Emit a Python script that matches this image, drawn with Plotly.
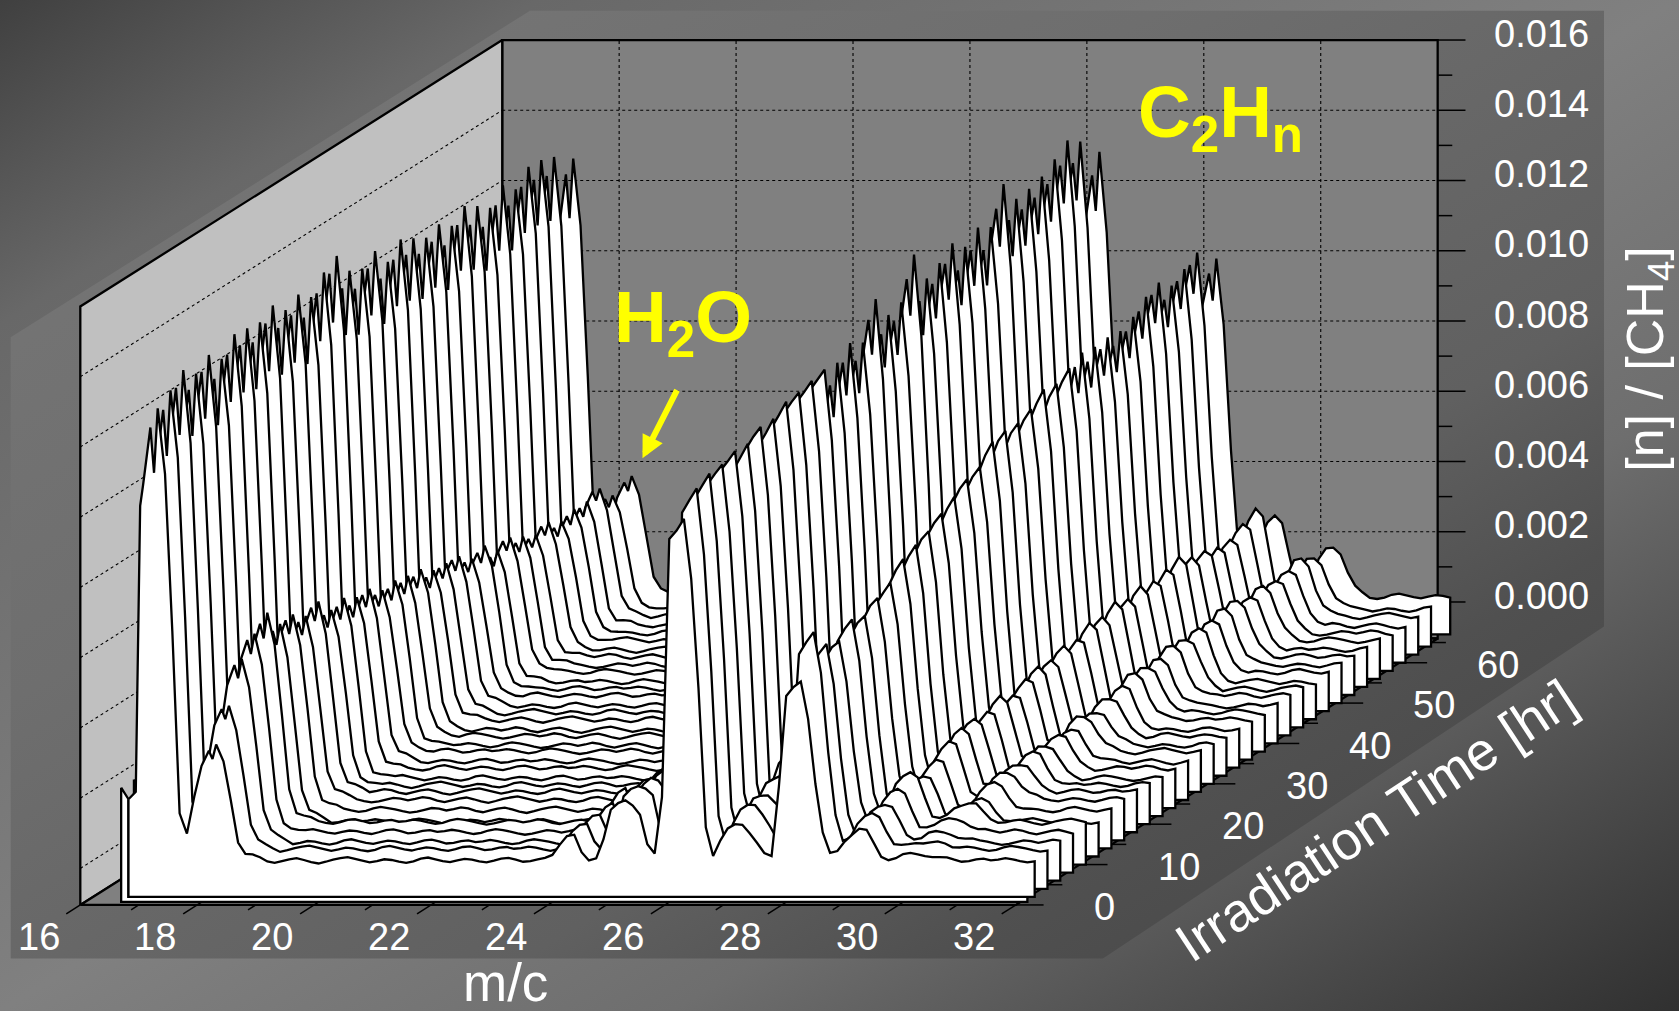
import base64
import plotly.graph_objects as go

# ---------- data ----------
TIMES = [2,4,6,8,10,12,14,16,18,20,22,24,26,28,30,32,34,36,38,40,42,44,46,48,50,52,54,56,58,60,62,64,67]
MC_START = 16.48
MC_STEP = 0.125
N_SAMPLES = 126

LEFT_EDGE = [0.00207, 0.00174, 0.00195]

# peak profiles: (sample position on the m/c grid, fraction of the peak height)
SHAPE_A = [(2.6,.78),(3,.83),(4,.96),(4.5,.86),(5,1.0),(6,.85),(7,.5),(8,.1),(9,.03)]
SHAPE_B = [(9,.11),(10,.56),(11,.84),(12,.96),(12.5,.89),(13,1.0),(14,.84),(15,.51),(16,.16),(17,.05),(18,.03),(19,.015)]
SHAPE_C1 = [(58,.03),(59,.22),(60,.6),(61,.9),(62,1.0),(63,.36),(64,.08)]
SHAPE_C2 = [(65,.05),(66,.33),(67,.8),(68,.93),(69,1.0),(70,.94),(71,.81),(72,.3)]
# the young spectra have rounded tops, the later ones a spike on a shoulder
SHAPE_D_EARLY = [(73,.02),(74,.18),(75,.94),(76,.97),(77,1.0),(78,.82),(79,.5),(80,.1),(81,.02)]
SHAPE_D_LATE = [(73,.02),(74,.18),(75,.84),(76,.95),(76.5,.87),(77,1.0),(78,.82),(79,.5),(80,.1),(81,.02)]
SHAPE_E = [(82,.59),(83,.88),(84,.97),(85,1.0),(86,.82),(87,.59),(88,.25),(89,.1)]
SHAPE_F_EARLY = [(90,.40),(91,.90),(92,.96),(93,1.0),(94,.80),(95,.43),(96,.15),(97,.04)]
SHAPE_F_LATE = [(90,.40),(91,.85),(92,.96),(92.5,.88),(93,1.0),(94,.80),(95,.43),(96,.15),(97,.04)]
SHAPE_G = [(98,.36),(99,.71),(100,.89),(101,1.0),(102,.93),(103,.54),(104,.14),(105,.04)]
SHAPE_H = [(105,.1),(106,.3),(107,.7),(108,.95),(109,1.0),(110,.9),(111,.5),(112,.2),(113,.08)]
LATE_D_FROM = 12
LATE_F_FROM = 22

H_A = [.0129,.0131,.0134,.0131,.0133,.0132,.0135,.0134,.0133,.0136,.0133,.0135,.0132,.0136,.0139,.0133,.0131,
       .0134,.0129,.0132,.0130,.0128,.0131,.0127,.0130,.0128,.0125,.0129,.0127,.0131,.0130,.0128,.0125]
H_B = [.0033,.0041,.0053,.0057,.0059,.0056,.0056,.0052,.0054,.0050,.0051,.0048,.0049,.0046,.0047,.0045,.0046,
       .0043,.0042,.0043,.0039,.0041,.0037,.0038,.0036,.0034,.0036,.0034,.0035,.0035,.0036,.0033,.0034]
H_C1 = [.0007,.0007,.0008,.0008,.0009,.0009,.0009,.0009,.0008,.0009,.0008,.0008,.0008,.0007,.0008,.0007,.0007,
        .0007,.0006,.0007,.0006,.0006,.0006,.0005,.0006,.0005,.0005,.0005,.0005,.0005,.0005,.0005,.0005]
H_C2 = [.0017,.0018,.0018,.0017,.0018,.0018,.0017,.0017,.0016,.0016,.0016,.0015,.0015,.0015,.0014,.0014,.0014,
        .0013,.0013,.0013,.0012,.0012,.0012,.0011,.0011,.0011,.0011,.0010,.0010,.0010,.0010,.0010,.0010]
H_D = [.0097,.0102,.0104,.0105,.0106,.0107,.0109,.0108,.0111,.0112,.0114,.0114,.0113,.0116,.0115,.0124,.0118,
       .0119,.0130,.0121,.0123,.0127,.0124,.0126,.0125,.0135,.0128,.0129,.0130,.0133,.0135,.0133,.0126]
H_E = [.0010,.0012,.0014,.0016,.0019,.0021,.0023,.0024,.0026,.0027,.0028,.0029,.0030,.0030,.0031,.0031,.0031,
       .0032,.0032,.0032,.0033,.0033,.0033,.0033,.0034,.0034,.0034,.0034,.0034,.0034,.0034,.0034,.0034]
H_F = [.0051,.0062,.0056,.0054,.0057,.0058,.0060,.0062,.0066,.0068,.0070,.0073,.0075,.0078,.0080,.0083,.0085,
       .0084,.0087,.0090,.0088,.0091,.0093,.0092,.0094,.0093,.0095,.0097,.0100,.0097,.0099,.0102,.0096]
H_G = [.00085,.0010,.0011,.0012,.0014,.0013,.0014,.0016,.0018,.0019,.0019,.0020,.0019,.0021,.0022,.0022,.0024,
       .0023,.0025,.0025,.0026,.0025,.0027,.0026,.0027,.0028,.0026,.0026,.0024,.0025,.0027,.0028,.0023]
H_H = [.0002,.0002,.0003,.0004,.0005,.0006,.0007,.0008,.0008,.0009,.0009,.0009,.0009,.0010,.0010,.0011,.0012,
       .0013,.0013,.0013,.0014,.0014,.0015,.0014,.0016,.0016,.0015,.0015,.0015,.0016,.0016,.0015,.0014]

# baseline level of each spectrum and its ripple
BASE = [0.0,.00010,.00006,.00012,.00018,-.00004,.00006,.00012,.00012,.00008,.00004,.00010,.00006,.00012,.00006,.00010,.00004,
        .00010,.00008,.00004,.00010,.00006,.00002,.00008,.00004,.00006,.00002,.00006,.00004,.00002,.00006,.00002,.00004]
RIPPLE = [.00002,.00006,.00003,-.00002,-.00006,-.00003,.00004,.00008,.00005,.00001,-.00004,-.00008,-.00005,.00000,.00005,
          .00003,-.00002,.00002,.00007,.00004,-.00003,-.00007,-.00002,.00003,.00006,.00001,-.00005,-.00009,-.00004,.00002,
          .00006,.00009,.00004,-.00001,-.00006,-.00002,.00003,.00001,-.00004,-.00007,-.00003,.00005,.00008,.00003,-.00002,
          -.00005,.00000,.00004,.00002,-.00003,-.00006,-.00001,.00005,.00007,.00002,-.00004,-.00002,.00003,.00005,.00000]

Z_TICKS = [0.000,0.002,0.004,0.006,0.008,0.010,0.012,0.014,0.016]
Z_LABELS = ["0.000","0.002","0.004","0.006","0.008","0.010","0.012","0.014","0.016"]
MC_TICKS = [16,18,20,22,24,26,28,30,32]
MC_MINOR = [17,19,21,23,25,27,29,31]
T_TICKS = [0,10,20,30,40,50,60]
T_MINOR = [5,15,25,35,45,55,65]

# ---------- oblique 3-D to page projection ----------
K = 1679 / 1568
FLOOR = -0.00104
T_END = 66
LW = 2.3


def px(m, t):
    return K * (75 + 54.6 * (m - 16) + 5.97 * t)


def py(t, z):
    return K * (811 - 32800 * z - 3.77 * t)


def path(pts):
    return [px(m, t) for m, t, z in pts], [py(t, z) for m, t, z in pts]


def seg_trace(segs, width=LW, dash=None, color="black"):
    xs, ys = [], []
    for s in segs:
        x, y = path(s)
        xs += x + [None]
        ys += y + [None]
    return go.Scatter(x=xs, y=ys, mode="lines", hoverinfo="skip", showlegend=False,
                      line=dict(color=color, width=width, dash=dash, simplify=False))


def poly(pts, fill, line_w=LW, line_c="black"):
    x, y = path(pts + [pts[0]])
    return go.Scatter(x=x, y=y, mode="lines", fill="toself", fillcolor=fill, hoverinfo="skip", showlegend=False,
                      line=dict(color=line_c, width=line_w, simplify=False))


fig = go.Figure()

# walls and floor
fig.add_trace(poly([(16,T_END,FLOOR),(32,T_END,FLOOR),(32,T_END,.016),(16,T_END,.016)], "#808080"))
fig.add_trace(poly([(16,0,FLOOR),(16,T_END,FLOOR),(16,T_END,.016),(16,0,.016)], "#c0c0c0"))
fig.add_trace(poly([(16,0,FLOOR),(32,0,FLOOR),(32,T_END,FLOOR),(16,T_END,FLOOR)], "#808080"))

# grid
grid = [[(16,T_END,z),(32,T_END,z)] for z in Z_TICKS[:-1]]
grid += [[(16,0,z),(16,T_END,z)] for z in Z_TICKS[:-1]]
grid += [[(m,T_END,0),(m,T_END,.016)] for m in MC_TICKS[1:-1]]
fig.add_trace(seg_trace(grid, width=1.1, dash="dot"))

# ticks
ticks = [[(32,T_END,z),(32.476,T_END,z)] for z in Z_TICKS]
ticks += [[(32,T_END,z + .001),(32.25,T_END,z + .001)] for z in Z_TICKS[:-1]]
ticks += [[(32,t,FLOOR),(32.476,t,FLOOR)] for t in T_TICKS]
ticks += [[(32,t,FLOOR),(32.25,t,FLOOR)] for t in T_MINOR]
ticks += [[(m,0.8 if m != 16 else 0,FLOOR),(m,-2.2,FLOOR)] for m in MC_TICKS]
ticks += [[(m,0,FLOOR),(m,-1.2,FLOOR)] for m in MC_MINOR]
fig.add_trace(seg_trace(ticks, width=1.5))


# spectra, back to front
def spectrum(n):
    """Returns sorted (m/c, value) pairs of spectrum n."""
    shape_d = SHAPE_D_LATE if n >= LATE_D_FROM else SHAPE_D_EARLY
    shape_f = SHAPE_F_LATE if n >= LATE_F_FROM else SHAPE_F_EARLY
    ridges = [(SHAPE_A,H_A),(SHAPE_B,H_B),(SHAPE_C1,H_C1),(SHAPE_C2,H_C2),(shape_d,H_D),
              (SHAPE_E,H_E),(shape_f,H_F),(SHAPE_G,H_G),(SHAPE_H,H_H)]
    level = lambda k: BASE[n] + RIPPLE[(int(k) + 7 * n) % len(RIPPLE)]
    vals = {float(i): level(i) for i in range(N_SAMPLES)}
    for i, v in enumerate(LEFT_EDGE):
        vals[float(i)] = v
    for shape, heights in ridges:
        for k, f in shape:
            vals[k] = vals.get(k, level(k)) + f * heights[n]
    keys = sorted(vals)
    return [MC_START + MC_STEP * k for k in keys], [vals[k] for k in keys]


for n in range(len(TIMES) - 1, 0, -1):
    t = TIMES[n]
    m, v = spectrum(n)
    pts = [(a, t, b) for a, b in zip(m, v)]
    pts += [(m[-1], t, FLOOR), (m[0], t, FLOOR)]
    fig.add_trace(poly(pts, "white"))

# front spectrum with its outer rim
t0 = TIMES[0]
m0, v0 = spectrum(0)
RIM = FLOOR - 0.00014
fig.add_trace(poly([(m0[0],t0,v0[0]),(m0[1],t0,v0[1]),(m0[1],t0,FLOOR),(m0[-2],t0,FLOOR),(m0[-2],t0,RIM),(m0[0],t0,RIM)], "white"))
pts = [(a, t0, b) for a, b in zip(m0[1:], v0[1:])]
pts += [(m0[-1], t0, FLOOR), (m0[1], t0, FLOOR)]
fig.add_trace(poly(pts, "white"))

# ---------- text ----------
FONT = "Liberation Sans"


def note(x, y, text, size, color="white", angle=0, anchor="center", bold=False):
    fig.add_annotation(x=x, y=y, xref="x", yref="y", text=f"<b>{text}</b>" if bold else text, showarrow=False,
                       textangle=angle, xanchor=anchor, yanchor="middle",
                       font=dict(family=FONT, size=size, color=color))


for z, lab in zip(Z_TICKS, Z_LABELS):
    note(px(32, T_END) + K * 51, py(T_END, z) - K * 6, lab, 38, anchor="left")
for mc in MC_TICKS:
    note(px(mc, 0) - K * 39, py(0, FLOOR) + K * 30, str(mc), 38)
for t in T_TICKS:
    note(px(32, t) + K * 71, py(t, FLOOR) + K * 2, str(t), 38, anchor="left")

note(K * 472, K * 918, "m/c", 53)
note(K * 1285, K * 766, "Irradiation Time [hr]", 54, angle=-33.3)
note(K * 1540, K * 336, "[n] / [CH<sub>4</sub>]", 52, angle=-90)
note(K * 1140, K * 109, "C<sub>2</sub>H<sub>n</sub>", 73, color="#ffff00", bold=True)
note(K * 638, K * 301, "H<sub>2</sub>O", 73, color="#ffff00", bold=True)

fig.add_annotation(x=K * 600, y=K * 428, ax=K * 633, ay=K * 363, xref="x", yref="y", axref="x", ayref="y", text="",
                   showarrow=True, arrowhead=2, arrowsize=0.75, arrowwidth=6, arrowcolor="#ffff00")

# ---------- gradient backdrop ----------
W, H = 1679, 1011
panel = " ".join(f"{K*a:.1f},{K*b:.1f}" for a, b in
                 [(10,315),(495,10),(1498,10),(1498,585),(1030,895),(10,895)])
svg = f"""<svg xmlns="http://www.w3.org/2000/svg" width="{W}" height="{H}" viewBox="0 0 {W} {H}">
<defs>
<linearGradient id="o" x1="0" y1="0" x2="1" y2="1">
<stop offset="0" stop-color="#404040"/><stop offset="0.16" stop-color="#686868"/>
<stop offset="0.5" stop-color="#808080"/><stop offset="0.7" stop-color="#6e6e6e"/><stop offset="1" stop-color="#303030"/>
</linearGradient>
<linearGradient id="p" x1="0" y1="0" x2="1" y2="1">
<stop offset="0" stop-color="#787878"/><stop offset="0.35" stop-color="#6e6e6e"/>
<stop offset="0.63" stop-color="#606060"/><stop offset="0.75" stop-color="#505050"/><stop offset="1" stop-color="#404040"/>
</linearGradient>
<clipPath id="c"><polygon points="{panel}"/></clipPath>
</defs>
<rect width="{W}" height="{H}" fill="url(#o)"/>
<rect width="{W}" height="{H}" fill="url(#p)" clip-path="url(#c)"/>
</svg>"""
uri = "data:image/svg+xml;base64," + base64.b64encode(svg.encode()).decode()

fig.update_layout(
    width=W, height=H, autosize=False, margin=dict(l=0, r=0, t=0, b=0),
    paper_bgcolor="#666666", plot_bgcolor="rgba(0,0,0,0)", showlegend=False,
    xaxis=dict(range=[0, W], visible=False, fixedrange=True),
    yaxis=dict(range=[H, 0], visible=False, fixedrange=True),
    images=[dict(source=uri, xref="paper", yref="paper", x=0, y=1, sizex=1, sizey=1,
                 sizing="stretch", layer="below", xanchor="left", yanchor="top")],
)

fig.write_html("out.html", config=dict(displayModeBar=False),
               post_script="document.body.style.margin='0';document.body.style.overflow='hidden';")
